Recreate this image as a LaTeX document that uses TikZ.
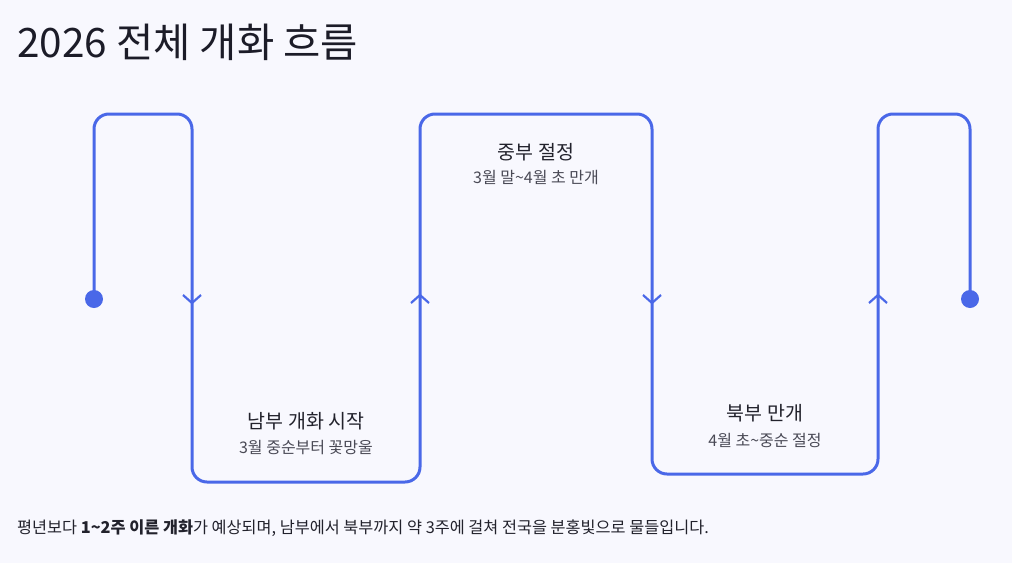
\documentclass[tikz,border=0pt]{standalone}
\usepackage{fontspec}
\setmainfont{Noto Sans CJK KR}
\usepackage{xcolor}

\definecolor{flowblue}{RGB}{74,104,232}
\definecolor{bgcol}{RGB}{248,248,254}
\definecolor{titlecol}{RGB}{28,28,40}
\definecolor{headcol}{RGB}{34,34,44}
\definecolor{subcol}{RGB}{74,74,86}

\begin{document}
\begin{tikzpicture}[x=1pt, y=-1pt,
    flow/.style={line width=3pt, flowblue, rounded corners=15pt},
    chev/.style={line width=2.2pt, flowblue},
    head/.style={font=\fontsize{19.5}{22}\selectfont, text=headcol},
    sub/.style={font=\fontsize{16}{18}\selectfont, text=subcol}]

    % Background
    \fill[bgcol] (0,0) rectangle (1012,563);
    \useasboundingbox (0,0) rectangle (1012,563);

    % Title
    \node[anchor=base west, inner sep=0pt, font=\fontsize{40.5}{46}\selectfont, text=titlecol] (title) at (17,57) {2026 전체 개화 흐름};

    % Corners of the flow line
    \coordinate (start) at (94,299);
    \coordinate (c1) at (94,114);
    \coordinate (c2) at (192,114);
    \coordinate (c3) at (192,482);
    \coordinate (c4) at (420,482);
    \coordinate (c5) at (420,114);
    \coordinate (c6) at (652,114);
    \coordinate (c7) at (652,474);
    \coordinate (c8) at (878,474);
    \coordinate (c9) at (878,114);
    \coordinate (c10) at (970,114);
    \coordinate (end) at (970,299);

    % Flow line
    \draw[flow] (start) -- (c1) -- (c2) -- (c3) -- (c4) -- (c5) -- (c6) -- (c7) -- (c8) -- (c9) -- (c10) -- (end);
    \fill[flowblue] (start) circle (9);
    \fill[flowblue] (end) circle (9);

    % Direction marks
    \coordinate (arr1) at (192,303);
    \coordinate (arr2) at (420,295);
    \coordinate (arr3) at (652,303);
    \coordinate (arr4) at (878,295);
    \draw[chev] (arr1) ++(-9,-8) -- (arr1) -- ++(9,-8);
    \draw[chev] (arr2) ++(-9,8) -- (arr2) -- ++(9,8);
    \draw[chev] (arr3) ++(-9,-8) -- (arr3) -- ++(9,-8);
    \draw[chev] (arr4) ++(-9,8) -- (arr4) -- ++(9,8);

    % Stage labels
    \node[head] (south) at (306,421) {남부 개화 시작};
    \node[sub] (southsub) at (306,448) {3월 중순부터 꽃망울};
    \node[head] (middle) at (536,152) {중부 절정};
    \node[sub] (middlesub) at (536,178) {3월 말\textasciitilde 4월 초 만개};
    \node[head] (north) at (765,413) {북부 만개};
    \node[sub] (northsub) at (765,440) {4월 초\textasciitilde 중순 절정};

    % Summary
    \node[anchor=west, inner sep=0pt, font=\fontsize{16.3}{18}\selectfont, text=headcol] (summary) at (17,528)
        {평년보다 \textbf{1\textasciitilde 2주 이른 개화}가 예상되며, 남부에서 북부까지 약 3주에 걸쳐 전국을 분홍빛으로 물들입니다.};
\end{tikzpicture}
\end{document}
